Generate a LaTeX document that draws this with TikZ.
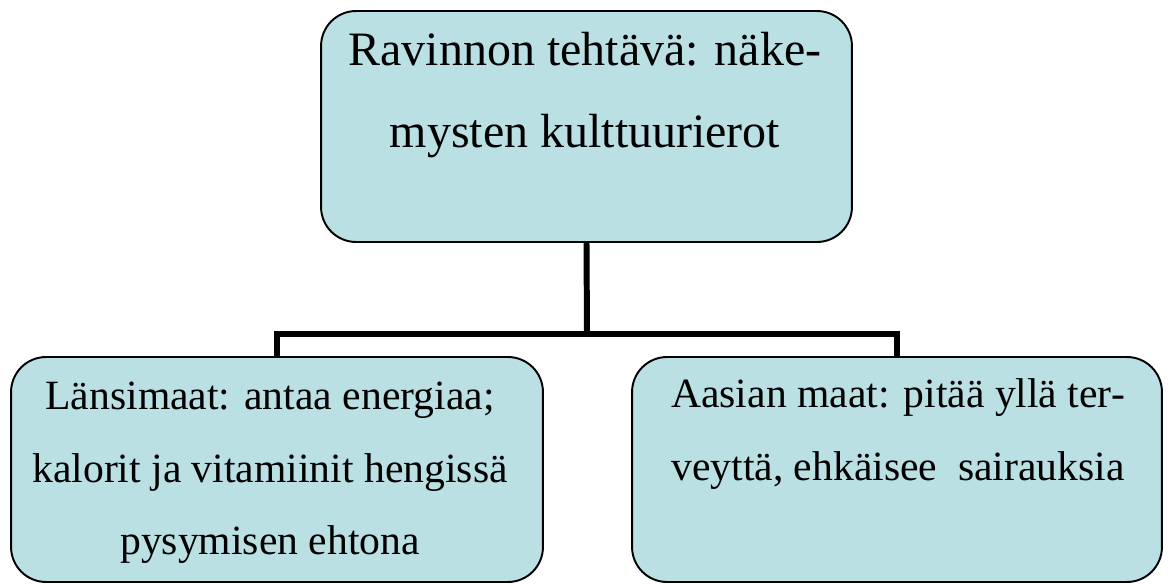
\documentclass[tikz,border=0pt]{standalone}
\usepackage{fontspec}
\setmainfont{Liberation Serif}
\definecolor{boxfill}{RGB}{186,224,228}
\begin{document}
\begin{tikzpicture}[x=0.02cm, y=-0.02cm,
		box/.style={draw, line width=1.1pt, fill=boxfill, rounded corners=0.7cm, inner sep=0pt},
		link/.style={line width=3.4pt},
		bigtxt/.style={anchor=base, align=center, inner sep=0pt, font=\fontsize{27.3}{47.1}\selectfont},
		smalltxt/.style={anchor=base, align=center, inner sep=0pt, font=\fontsize{23.7}{41.4}\selectfont}]
		\useasboundingbox (0,0) rectangle (1171,584);
		
		% the three boxes
		\node[box, minimum width=10.62cm, minimum height=4.62cm] (top) at (586.5,126.5) {};
		\node[box, minimum width=10.64cm, minimum height=4.5cm] (west) at (277,469.5) {};
		\node[box, minimum width=10.6cm, minimum height=4.5cm] (east) at (897,469.5) {};
		
		% texts (anchor base = last line)
		\node[bigtxt] (toptext) at (585,148) {Ravinnon tehtävä: näke-\\mysten kulttuurierot};
		\node[smalltxt] (westtext) at (270,555) {Länsimaat: antaa energiaa;\\kalorit ja vitamiinit hengissä\\pysymisen ehtona};
		\node[smalltxt] (easttext) at (898,480) {Aasian maat: pitää yllä ter-\\veyttä, ehkäisee\ \ sairauksia};
		
		% connectors
		\coordinate (joint) at (587,334);
		\draw[link] (top.south) -- (joint);
		\draw[link] (west.north) |- (joint) -| (east.north);
	\end{tikzpicture}
\end{document}
